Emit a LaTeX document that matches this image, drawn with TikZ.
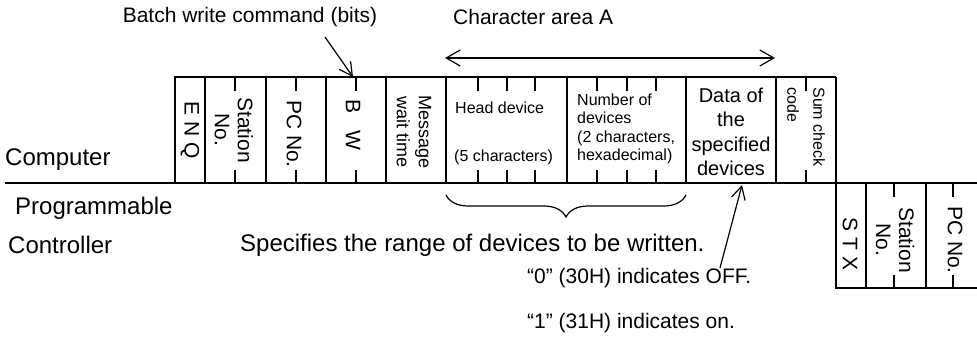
\documentclass[tikz,border=0pt]{standalone}
\usepackage{fontspec}
\setmainfont{Liberation Sans}
\usetikzlibrary{arrows.meta,decorations.pathreplacing}
\begin{document}
\begin{tikzpicture}[x=1pt,y=-1pt,
  frame/.style={line width=1.4pt},
  tk/.style={line width=1.2pt},
  lbl/.style={inner sep=0pt,font=\fontsize{24}{28}\selectfont},
  note/.style={inner sep=0pt,font=\fontsize{21}{24}\selectfont},
  vbig/.style={rotate=-90,inner sep=0pt,align=center,font=\fontsize{21}{23}\selectfont},
  vmid/.style={rotate=-90,inner sep=0pt,align=center,font=\fontsize{18}{22}\selectfont},
  small/.style={inner sep=0pt,font=\fontsize{16}{18.5}\selectfont},
  arr/.style={line width=1.2pt,-{Straight Barb[length=13pt,width=14pt]}},
  darr/.style={line width=1.2pt,{Straight Barb[length=14pt,width=16pt]}-{Straight Barb[length=14pt,width=16pt]}}]
\useasboundingbox (0,0) rectangle (977,347);
% top row frame
\draw[frame] (175,183) -- (175,77) -- (836,77);
\foreach \x in {205,266,326,386,446,567,686,776,836}
  \draw[frame] (\x,77) -- (\x,183);
\draw[frame] (5,183) -- (977,183);
% bottom row frame
\draw[frame] (836,183) -- (836,288) -- (977,288);
\foreach \x in {866,926}
  \draw[frame] (\x,183) -- (\x,288);
% ticks top row
\foreach \x in {235,296,356,478,507,535,597,627,656,806} {
  \draw[tk] (\x,77) -- (\x,91);
  \draw[tk] (\x,170) -- (\x,183);
}
% ticks bottom row
\foreach \x in {894,953} {
  \draw[tk] (\x,183) -- (\x,197);
  \draw[tk] (\x,275) -- (\x,288);
}
% side labels
\node[lbl,anchor=west] (comp) at (5,160) {Computer};
\node[lbl,anchor=west] (prog) at (15,208) {Programmable};
\node[lbl,anchor=west] (ctrl) at (8,245) {Controller};
\node[lbl,anchor=west] (spec) at (240,245) {Specifies the range of devices to be written.};
% notes
\node[note] (bwcmd) at (250,17) {Batch write command (bits)};
\node[note,anchor=west] (carea) at (453,17) {Character area A};
\node[note,anchor=west] (zero) at (527,278) {“0” (30H) indicates OFF.};
\node[note,anchor=west] (one) at (527,323) {“1” (31H) indicates on.};
% box texts
\node[vbig] (enq) at (190,130) {E N Q};
\node[vbig] (stn) at (234,130) {Station\\No.};
\node[vbig] (pcn) at (294,134) {PC No.};
\node[vbig] (bw) at (353,125) {B\hspace{0.8em}W};
\node[vmid] (msg) at (414,132) {Message\\wait time};
\node[small,anchor=west] (head) at (455,108) {Head device};
\node[small,anchor=west] (five) at (454,157) {(5 characters)};
\node[small,anchor=west,align=left] (num) at (577,129) {Number of\\devices\\(2 characters,\\hexadecimal)};
\node[inner sep=0pt,align=center,font=\fontsize{20}{24.3}\selectfont] (data) at (731,132) {Data of\\the\\specified\\devices};
\node[rotate=-90,inner sep=0pt,align=left,font=\fontsize{16}{18}\selectfont] (sum) at (806,127) {Sum check\\[8pt]code};
\node[vbig] (stx) at (850,244) {S T X};
\node[vbig] (stn2) at (895,240) {Station\\No.};
\node[vbig] (pcn2) at (955,240) {PC No.};
% connectors
\coordinate (bwtop) at (353,77);
\coordinate (bwfrom) at (325,37);
\draw[arr] (bwfrom) -- (bwtop);
\coordinate (caL) at (445,58);
\coordinate (caR) at (775,58);
\draw[darr] (caL) -- (caR);
\coordinate (brL) at (446,195);
\coordinate (brR) at (686,195);
\draw[line width=1.2pt,decorate,decoration={brace,mirror,amplitude=22pt}] (brL) -- (brR);
\coordinate (zfrom) at (720,268);
\coordinate (dbot) at (742,185);
\draw[arr] (zfrom) -- (dbot);
\end{tikzpicture}
\end{document}
